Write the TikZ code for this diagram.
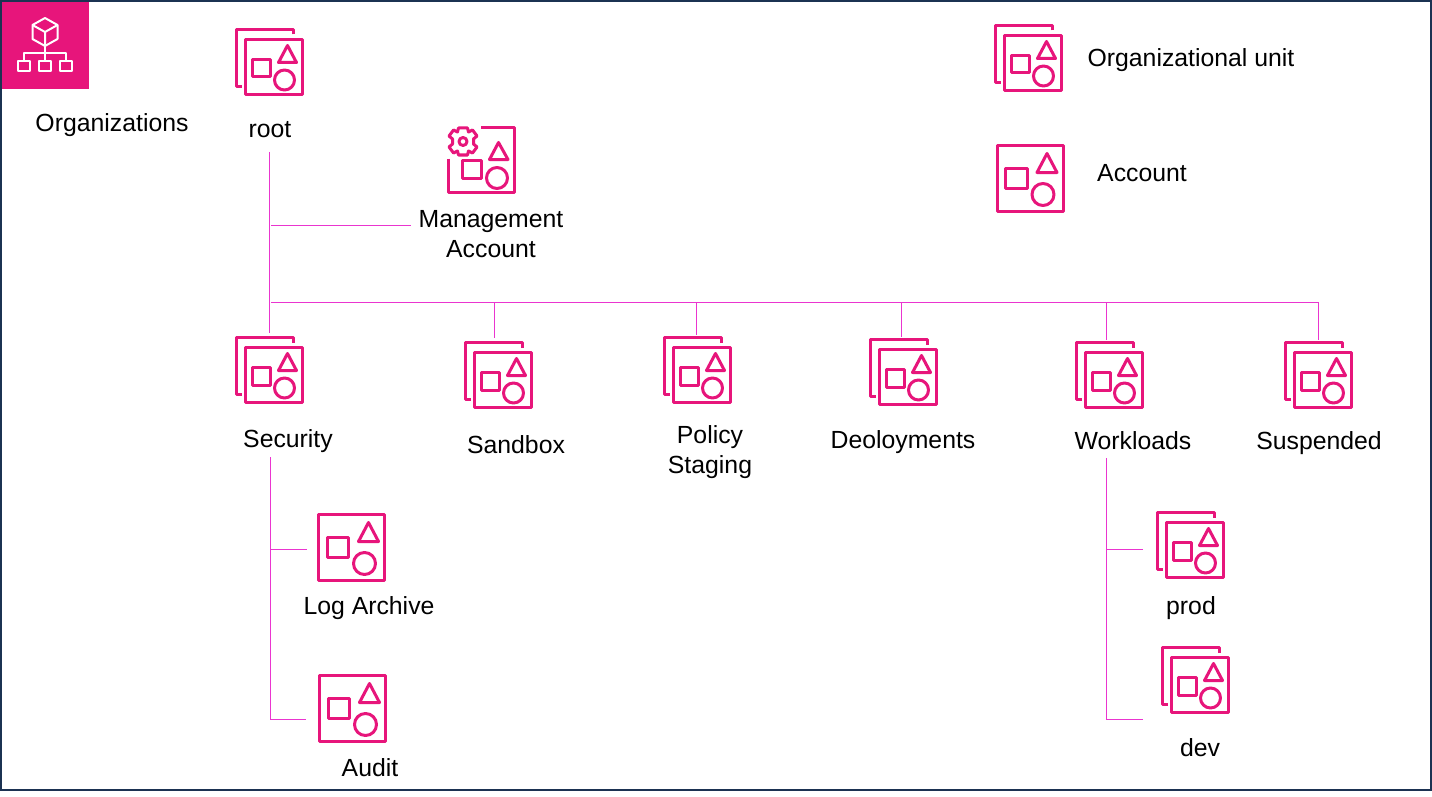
\documentclass[tikz,border=0pt]{standalone}
\usepackage{fontspec}
\setmainfont{Liberation Sans}
\definecolor{pinkaws}{HTML}{E7157B}
\definecolor{linkc}{HTML}{EA35CF}
\definecolor{frame}{HTML}{1B3252}
\tikzset{
  lbl/.style={font=\fontsize{24.8}{30}\selectfont, text=black, inner sep=0pt, align=center},
  link/.style={draw=linkc, line width=1.1pt},
  ic/.style={draw=pinkaws, line width=3pt, line join=round, fill=none},
  icr/.style={draw=pinkaws, line width=3pt, line join=round, fill=none},
  acct/.pic={
    \draw[icr] (0,0) rectangle (66,66);
    \draw[icr] (8.5,22.5) rectangle (30,43);
    \draw[ic] (50,8) -- (60,27) -- (40,27) -- cycle;
    \draw[ic] (46,49) circle (11);
  },
  ouic/.pic={
    \draw[icr] (9,10) rectangle (66,65);
    \draw[icr] (57,5) -- (57,0) -- (0,0) -- (0,57) -- (5,57);
    \draw[icr] (15.5,30) rectangle (34,47.5);
    \draw[ic] (51,16) -- (60,33) -- (42,33) -- cycle;
    \draw[ic] (48,50.5) circle (10);
  },
  mgmt/.pic={
    \draw[icr] (0,31) -- (0,65) -- (66,65) -- (66,0) -- (32,0);
    \draw[icr] (14,33) rectangle (33,50.5);
    \draw[ic] (50,15) -- (59.5,32) -- (41,32) -- cycle;
    \draw[ic] (48.5,50.5) circle (10.5);
    \draw[ic] (14.5,14) circle (4);
    \draw[ic] (10,0.5) -- (19,0.5) -- (20,4.5) -- (24,2.5) -- (28.5,8.5) -- (25,11.5) -- (25,16.5) -- (28.5,19.5) -- (24,25.5) -- (20,23.5) -- (19,27.5) -- (10,27.5) -- (9,23.5) -- (5,25.5) -- (0.5,19.5) -- (4,16.5) -- (4,11.5) -- (0.5,8.5) -- (5,2.5) -- (9,4.5) -- cycle;
  },
}
\begin{document}
\begin{tikzpicture}[x=1pt,y=-1pt]
\useasboundingbox (0,0) rectangle (1432,797);
\fill[white] (0,0) rectangle (1432,797);
\draw[frame,line width=2pt] (1,1) rectangle (1431,790);
% service tile
\fill[pinkaws] (2,2) rectangle (89,89);
\begin{scope}[white,line width=2pt,line join=round]
\draw (45,18) -- (57.5,25) -- (57.5,39) -- (45,46) -- (32.5,39) -- (32.5,25) -- cycle;
\draw (32.5,25) -- (45,32) -- (57.5,25) (45,32) -- (45,46);
\draw (45,46) -- (45,61) (24,61) -- (24,53.5) -- (66,53.5) -- (66,61);
\draw (18,61) rectangle (30,71);
\draw (39,61) rectangle (51,71);
\draw (60,61) rectangle (72,71);
\end{scope}
% icons
\pic at (236.5,29.5) {ouic};
\pic at (448.5,127.5) {mgmt};
\pic at (995.5,25.5) {ouic};
\pic at (997,145.5) {acct};
\pic at (236.5,337.5) {ouic};
\pic at (465.5,342.5) {ouic};
\pic at (664.5,337.5) {ouic};
\pic at (870.5,339.5) {ouic};
\pic at (1076.5,342.5) {ouic};
\pic at (1285.5,342.5) {ouic};
\pic at (318.5,514.5) {acct};
\pic at (319.5,675.5) {acct};
\pic at (1157.5,512.5) {ouic};
\pic at (1162.5,647.5) {ouic};
% labels
\node[lbl] (orgs) at (112,125) {Organizations};
\node[lbl] (root) at (270,130) {root};
\node[lbl] (mgmtacc) at (491,234) {Management\\[0pt]Account};
\node[lbl] (oulbl) at (1191,60) {Organizational unit};
\node[lbl] (acclbl) at (1142,173) {Account};
\node[lbl] (security) at (288,441.5) {Security};
\node[lbl] (sandbox) at (516,445) {Sandbox};
\node[lbl] (policy) at (710,452) {Policy\\[0pt]Staging};
\node[lbl] (deploy) at (903,442) {Deoloyments};
\node[lbl] (workloads) at (1133,441) {Workloads};
\node[lbl] (suspended) at (1319,443) {Suspended};
\node[lbl] (logarch) at (369,608) {Log Archive};
\node[lbl] (audit) at (370,768) {Audit};
\node[lbl] (prod) at (1191,608) {prod};
\node[lbl] (dev) at (1200,748) {dev};
% connectors
\coordinate (rootdrop) at (269.5,152);
\coordinate (secin) at (269.5,333);
\coordinate (mj) at (271,225.5);
\coordinate (mgmtin) at (411,225.5);
\coordinate (rootbus) at (271,302.5);
\coordinate (busend) at (1318.5,302.5);
\draw[link] (rootdrop) -- (secin);
\draw[link] (mj) -- (mgmtin);
\draw[link] (rootbus) -- (busend);
\foreach \x/\b in {494.5/338,696.5/335,901.5/337,1106.5/340,1318.5/340}
  \draw[link] (\x,302.5) -- (\x,\b);
\coordinate (secdrop) at (270.5,457);
\coordinate (secend) at (270.5,719.5);
\draw[link] (secdrop) -- (secend);
\draw[link] (270.5,549.5) -- (307,549.5);
\draw[link] (secend) -- (306,719.5);
\coordinate (wldrop) at (1106.5,458);
\coordinate (wlend) at (1106.5,719.5);
\draw[link] (wldrop) -- (wlend);
\draw[link] (1106.5,549.5) -- (1143,549.5);
\draw[link] (wlend) -- (1143,719.5);
\end{tikzpicture}
\end{document}
